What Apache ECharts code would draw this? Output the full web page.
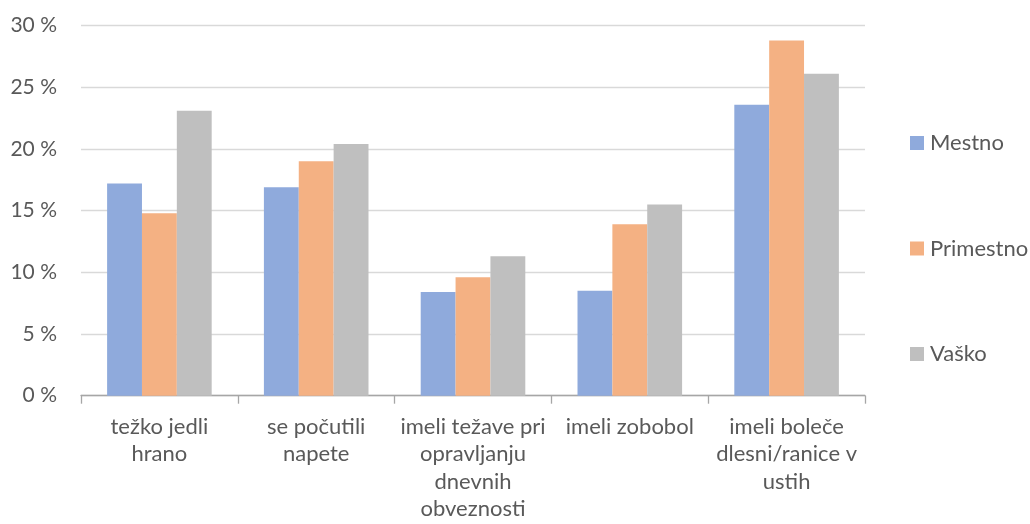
<!DOCTYPE html>
<html>
<head>
<meta charset="utf-8">
<script src="https://cdn.jsdelivr.net/npm/echarts@6/dist/echarts.min.js"></script>
<style>
html,body{margin:0;padding:0;background:#fff;}
#chart{width:1030px;height:524px;}
</style>
</head>
<body>
<div id="chart"></div>
<script>
const categories = [
  "težko jedli\nhrano",
  "se počutili\nnapete",
  "imeli težave pri\nopravljanju\ndnevnih\nobveznosti",
  "imeli zobobol",
  "imeli boleče\ndlesni/ranice v\nustih"
];
const seriesNames = ["Mestno", "Primestno", "Vaško"];
const mestno    = [17.2, 16.9, 8.4, 8.5, 23.6];
const primestno = [14.8, 19.0, 9.6, 13.9, 28.8];
const vasko     = [23.1, 20.4, 11.3, 15.5, 26.1];
const colors = ["#8faadc", "#f4b183", "#bfbfbf"];
const yTicks = [0, 5, 10, 15, 20, 25, 30];

const font = "Lato, 'Open Sans', 'DejaVu Sans', sans-serif";
const textColor = "#595959";

const chart = echarts.init(document.getElementById('chart'), null, {renderer: 'canvas'});
const dataSets = [mestno, primestno, vasko];

chart.setOption({
  animation: false,
  backgroundColor: '#ffffff',
  color: colors,
  textStyle: {fontFamily: font},
  grid: {left: 81, right: 165, top: 25.7, bottom: 128.3, containLabel: false},
  legend: {
    orient: 'vertical',
    left: 910,
    top: 132,
    padding: 0,
    itemWidth: 14,
    itemHeight: 14,
    itemGap: 83.5,
    icon: 'rect',
    textStyle: {color: textColor, fontSize: 22, fontFamily: font, lineHeight: 22, padding: [0, 0, 0, 1]},
    data: seriesNames
  },
  xAxis: {
    type: 'category',
    data: categories,
    axisLine: {show: true, lineStyle: {color: '#a6a6a6', width: 1.3}},
    axisTick: {show: true, length: 8, lineStyle: {color: '#a6a6a6', width: 1.3}, alignWithLabel: false},
    axisLabel: {
      color: textColor, fontSize: 22, fontFamily: font, lineHeight: 27.5,
      margin: 17, interval: 0, align: 'center'
    },
    splitLine: {show: false}
  },
  yAxis: {
    type: 'value',
    min: yTicks[0],
    max: yTicks[yTicks.length - 1],
    interval: 5,
    axisLine: {show: false},
    axisTick: {show: false},
    axisLabel: {
      color: textColor, fontSize: 21, fontFamily: font, margin: 24,
      formatter: v => v + ' %'
    },
    splitLine: {lineStyle: {color: '#d9d9d9', width: 1.3}}
  },
  series: seriesNames.map((name, i) => ({
    name: name,
    type: 'bar',
    data: dataSets[i],
    barGap: '0%',
    barCategoryGap: '33.3%',
    itemStyle: {color: colors[i]}
  }))
});
</script>
</body>
</html>
